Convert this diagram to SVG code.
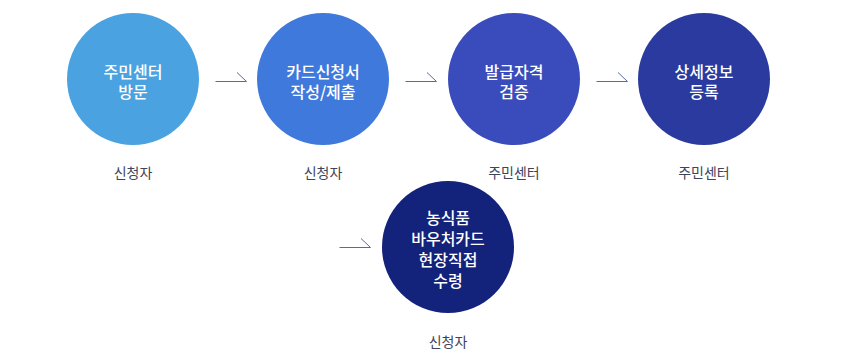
<svg xmlns="http://www.w3.org/2000/svg" width="856" height="357" viewBox="0 0 856 357">
<style>
.ct{font-family:"Noto Sans CJK KR","Noto Sans",sans-serif;font-size:16px;font-weight:500;fill:#ffffff;text-anchor:middle}
.lb{font-family:"Noto Sans CJK KR","Noto Sans",sans-serif;font-size:14px;font-weight:400;fill:#40445a;text-anchor:middle}
.ar{fill:none;stroke:#5a68a8;stroke-width:1}
</style>
<rect width="856" height="357" fill="#ffffff"/>
<g id="connectors">
<path class="ar" d="M215.5 81.5H246.5L237 72.5"/>
<path class="ar" d="M405.5 81.5H436.5L427 72.5"/>
<path class="ar" d="M596.5 81.5H627.5L618 72.5"/>
<path class="ar" d="M339.5 247.5H370.5L361 238.5"/>
</g>
<g id="n1">
<circle cx="133" cy="79" r="66" fill="#4aa2e0"/>
<text class="ct" x="133" y="78">주민센터<tspan x="133" dy="20">방문</tspan></text>
<text class="lb" x="133" y="178">신청자</text>
</g>
<g id="n2">
<circle cx="323" cy="79" r="66" fill="#3f79dc"/>
<text class="ct" x="323" y="78">카드신청서<tspan x="323" dy="20">작성/제출</tspan></text>
<text class="lb" x="323" y="178">신청자</text>
</g>
<g id="n3">
<circle cx="514" cy="79" r="66" fill="#3a4cbb"/>
<text class="ct" x="514" y="78">발급자격<tspan x="514" dy="20">검증</tspan></text>
<text class="lb" x="514" y="178">주민센터</text>
</g>
<g id="n4">
<circle cx="704" cy="79" r="66" fill="#2a3a9e"/>
<text class="ct" x="704" y="78">상세정보<tspan x="704" dy="20">등록</tspan></text>
<text class="lb" x="704" y="178">주민센터</text>
</g>
<g id="n5">
<circle cx="448" cy="247" r="66" fill="#13227a"/>
<text class="ct" x="448" y="224">농식품<tspan x="448" dy="21">바우처카드</tspan><tspan x="448" dy="21">현장직접</tspan><tspan x="448" dy="21">수령</tspan></text>
<text class="lb" x="448" y="347">신청자</text>
</g>
</svg>
